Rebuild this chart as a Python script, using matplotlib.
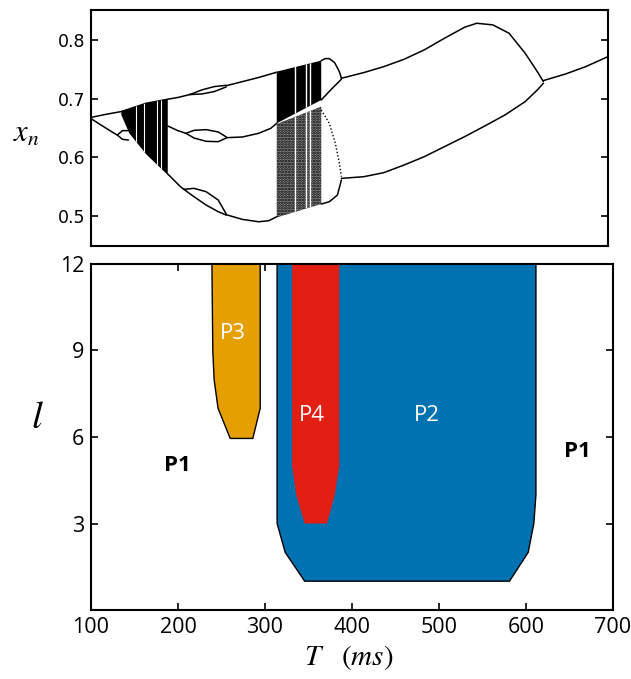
import matplotlib
matplotlib.use("Agg")
import matplotlib.pyplot as plt

plt.rcParams['mathtext.fontset'] = 'stix'
plt.rcParams['hatch.linewidth'] = 1.3

# ---- top panel: bifurcation diagram (T vs x_n) ----
branch_a_T = [100, 116.4, 135.2, 163.8, 189.1, 200.8, 214.8]
branch_a_x = [0.668, 0.673, 0.678, 0.692, 0.699, 0.702, 0.707]
bub_a_T = [214.8, 228.9, 243.0, 257.0]
bub_a_up = [0.707, 0.715, 0.7205, 0.7227]
bub_a_lo = [0.707, 0.708, 0.712, 0.720]
branch_a2_T = [257.0, 275.8, 294.5, 315.6]
branch_a2_x = [0.722, 0.729, 0.736, 0.745]

branch_b_T = [100, 111.7, 125.8, 130.5]
branch_b_x = [0.666, 0.655, 0.642, 0.638]
bub_b_T = [130.5, 136.6, 143.6]
bub_b_up = [0.638, 0.6455, 0.6455]
bub_b_lo = [0.638, 0.6307, 0.6295]
branch_b2_T = [189.1, 196.1, 203.1, 207.8]
branch_b2_x = [0.5716, 0.5614, 0.5511, 0.5455]
bub_c_T = [207.8, 219.5, 233.6, 247.7, 257.0]
bub_c_up = [0.5455, 0.5472, 0.5415, 0.5273, 0.5034]
bub_c_lo = [0.5455, 0.533, 0.5188, 0.5074, 0.5017]
branch_c_T = [257.0, 275.8, 294.5, 306.3, 315.6]
branch_c_x = [0.5023, 0.4943, 0.4903, 0.492, 0.4989]

branch_m_T = [189.1, 200.8, 210.2]
branch_m_x = [0.6534, 0.6455, 0.6409]
bub_m_T = [210.2, 219.5, 233.6, 247.7, 257.0]
bub_m_up = [0.6409, 0.646, 0.6472, 0.6432, 0.6347]
bub_m_lo = [0.6409, 0.633, 0.6273, 0.6267, 0.633]
branch_m2_T = [257.0, 275.8, 294.5, 308.6, 315.6]
branch_m2_x = [0.6335, 0.6347, 0.6409, 0.6494, 0.658]

# chaotic bands (outlines)
band1_T = [135.2, 163.8, 189.1, 189.1, 163.8, 144.5, 135.2]
band1_x = [0.6784, 0.692, 0.6989, 0.5699, 0.6057, 0.6409, 0.6722]
band1_gaps = [152, 162, 177, 181]
band2a_T = [315.6, 367.2, 367.2, 315.6]
band2a_x = [0.746, 0.7648, 0.6977, 0.658]
band2b_T = [315.6, 367.2, 367.2, 315.6]
band2b_x = [0.6568, 0.6864, 0.5205, 0.4977]
band2_gaps = [337, 350, 354]

# after the second band
loop_up_T = [367.2, 371.9, 376.6, 382.7, 388.3, 390.6]
loop_up_x = [0.7648, 0.7682, 0.7682, 0.7614, 0.746, 0.7347]
loop_up2_T = [367.2, 378.9, 390.6]
loop_up2_x = [0.6977, 0.7159, 0.733]
loop_lo_T = [367.2, 376.6, 383.6, 388.3, 390.6]
loop_lo_x = [0.6807, 0.658, 0.6239, 0.5898, 0.567]
loop_lo2_T = [367.2, 376.6, 386.0, 390.6]
loop_lo2_x = [0.5205, 0.5244, 0.5358, 0.5614]

p2_up_T = [390.6, 416.4, 439.8, 463.3, 486.7, 510.2, 533.6, 547.7, 566.4, 585.2, 603.9, 618.0, 625.0]
p2_up_x = [0.7347, 0.7443, 0.7545, 0.767, 0.783, 0.8028, 0.8216, 0.8284, 0.8256, 0.8114, 0.7773, 0.746, 0.729]
p2_lo_T = [390.6, 416.4, 439.8, 463.3, 486.7, 510.2, 533.6, 557.0, 580.5, 603.9, 618.0, 625.0]
p2_lo_x = [0.5642, 0.567, 0.5739, 0.5869, 0.6011, 0.6182, 0.6352, 0.6534, 0.6722, 0.6949, 0.7148, 0.7261]
p1_T = [625.0, 650.8, 674.2, 700.0]
p1_x = [0.7307, 0.742, 0.7545, 0.7716]

# ---- bottom panel: regions in (T, l) ----
p3_T = [239, 240, 241.5, 246, 260, 286, 294.5, 294.5]
p3_l = [12, 9, 8, 7, 5.95, 5.95, 7, 12]
p2_T = [313.9, 313.9, 323.2, 345.6, 581, 602.5, 609, 611.4, 611.4]
p2_l = [12, 3, 2, 1, 1, 2, 3, 4, 12]
p4_T = [331.2, 331.2, 335.8, 345.6, 371.3, 380.2, 385.3, 385.3]
p4_l = [12, 5, 4, 3, 3, 4, 5, 12]

region_names = ['P3', 'P4', 'P2', 'P1', 'P1']
region_T = [263.5, 353.6, 485.7, 199.5, 659.5]
region_l = [9.6, 6.75, 6.75, 5.0, 5.5]

fig = plt.figure(figsize=(6.31, 6.79), dpi=100)
ax1 = fig.add_axes([0.1442, 0.6377, 0.8193, 0.3476])
ax2 = fig.add_axes([0.1442, 0.1016, 0.8273, 0.5096])

lw = 1.1
curves = [
    (branch_a_T, branch_a_x), (bub_a_T, bub_a_up), (bub_a_T, bub_a_lo), (branch_a2_T, branch_a2_x),
    (branch_b_T, branch_b_x), (bub_b_T, bub_b_up), (bub_b_T, bub_b_lo),
    (branch_b2_T, branch_b2_x), (bub_c_T, bub_c_up), (bub_c_T, bub_c_lo), (branch_c_T, branch_c_x),
    (branch_m_T, branch_m_x), (bub_m_T, bub_m_up), (bub_m_T, bub_m_lo), (branch_m2_T, branch_m2_x),
    (loop_up_T, loop_up_x), (loop_up2_T, loop_up2_x), (loop_lo2_T, loop_lo2_x),
    (p2_up_T, p2_up_x), (p2_lo_T, p2_lo_x), (p1_T, p1_x),
]
for tt, xx in curves:
    ax1.plot(tt, xx, color='black', lw=lw, solid_capstyle='round')
ax1.plot(loop_lo_T, loop_lo_x, color='black', lw=1.0, ls=(0, (1, 1.5)))

b1 = ax1.fill(band1_T, band1_x, facecolor='black', edgecolor='none')[0]
b2a = ax1.fill(band2a_T, band2a_x, facecolor='black', edgecolor='none')[0]
b2b = ax1.fill(band2b_T, band2b_x, facecolor='0.55', edgecolor='black', hatch='......', lw=0)[0]
for g in band1_gaps:
    ln = ax1.axvline(g, color='white', lw=0.8)
    ln.set_clip_path(b1)
for g in band2_gaps:
    for patch in (b2a, b2b):
        ln = ax1.axvline(g, color='white', lw=1.0)
        ln.set_clip_path(patch)

ax1.set_xlim(100, 700)
ax1.set_ylim(0.449, 0.851)
ax1.set_yticks([0.5, 0.6, 0.7, 0.8])
ax1.set_xticks([])
ax1.tick_params(axis='y', direction='in', left=True, right=True, length=5, width=1.2,
                labelsize=12.5, pad=4)
for lab in ax1.get_yticklabels():
    lab.set_family('DejaVu Sans')
for s in ax1.spines.values():
    s.set_linewidth(1.5)
fig.text(0.041, 0.804, r'$x_n$', fontsize=22, ha='center', va='center')

# bottom panel
ax2.fill(p3_T, p3_l, facecolor='#E69F00', edgecolor='black', lw=1.0, zorder=2)
ax2.fill(p2_T, p2_l, facecolor='#0072B2', edgecolor='black', lw=1.0, zorder=2)
ax2.fill(p4_T, p4_l, facecolor='#E31E12', edgecolor='none', zorder=3)

for name, tt, ll in zip(region_names, region_T, region_l):
    if name == 'P1':
        ax2.text(tt, ll, name, color='black', fontsize=16, fontweight='bold',
                 family='Open Sans', ha='center', va='center')
    else:
        ax2.text(tt, ll, name, color='white', fontsize=16,
                 family='Open Sans', ha='center', va='center', zorder=4)

ax2.set_xlim(100, 700)
ax2.set_ylim(0, 12)
ax2.set_xticks([100, 200, 300, 400, 500, 600, 700])
ax2.set_yticks([3, 6, 9, 12])
ax2.tick_params(direction='in', top=True, right=True, length=5, width=1.2,
                labelsize=15.5, pad=5)
for lab in ax2.get_xticklabels() + ax2.get_yticklabels():
    lab.set_family('Open Sans')
for s in ax2.spines.values():
    s.set_linewidth(1.5)
    s.set_zorder(5)
fig.text(0.059, 0.386, r'$l$', fontsize=28, ha='center', va='center')
fig.text(0.553, 0.031, r'$T\quad(ms)$', fontsize=21, ha='center', va='center')

fig.savefig('out.png', dpi=100)
